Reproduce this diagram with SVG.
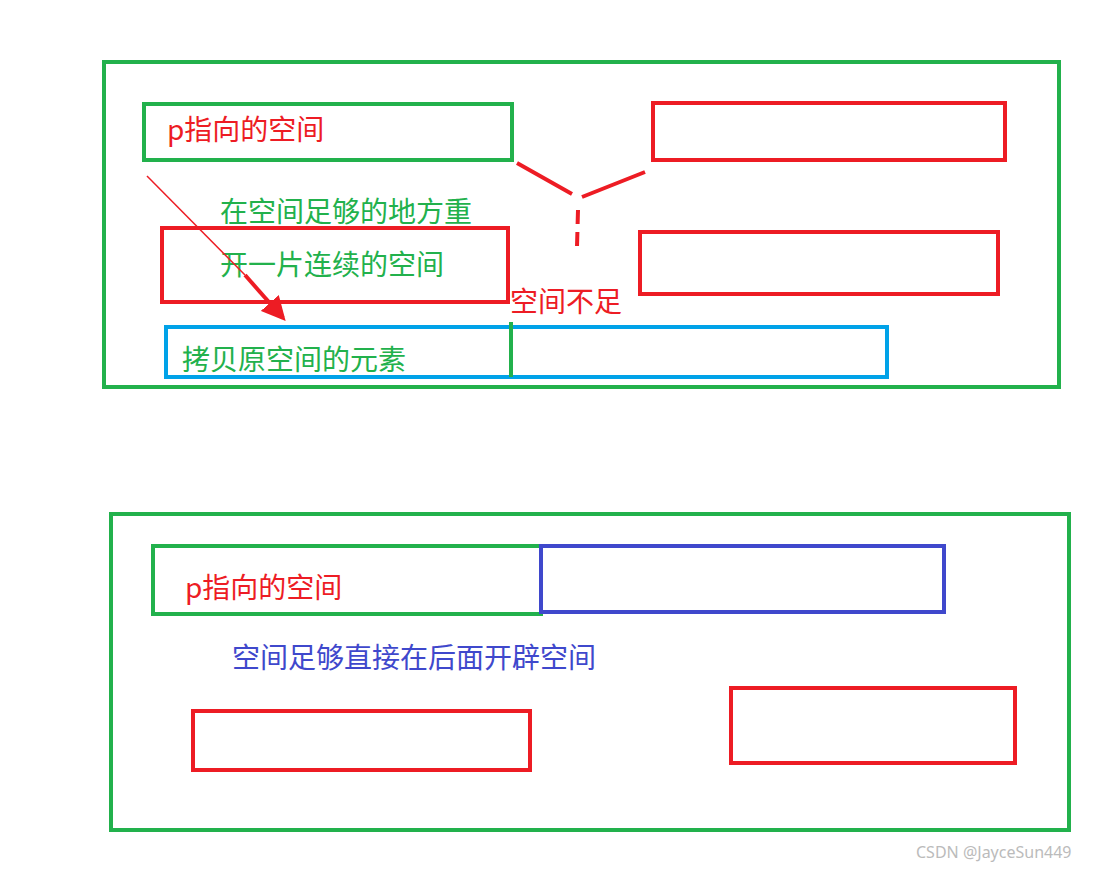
<svg xmlns="http://www.w3.org/2000/svg" width="1116" height="872" viewBox="0 0 1116 872">
<style>
rect{fill:none;stroke-width:4}
.g{stroke:#22b14c}.r{stroke:#ed1c24}.b{stroke:#00a2e8}.v{stroke:#3f48cc}
text{font-family:"Noto Sans CJK SC","Microsoft YaHei",sans-serif;font-size:28px}
</style>
<defs><marker id="ah" markerWidth="6" markerHeight="6" refX="5" refY="3" orient="auto"><path d="M0,0L6,3L0,6z" fill="#ed1c24"/></marker></defs>
<rect width="1116" height="872" fill="#fff" stroke="none"/>
<g id="top">
<rect class="g" x="104" y="62" width="955" height="325"/>
<g id="p1"><rect class="g" x="144" y="104" width="368" height="56"/><text x="167" y="140" fill="#ed1c24">p指向的空间</text></g>
<rect id="r1" class="r" x="653" y="103" width="352" height="57"/>
<rect id="r2" class="r" x="162" y="228" width="346" height="74"/>
<rect id="r3" class="r" x="640" y="232" width="358" height="62"/>
<g id="copy"><rect class="b" x="166" y="327" width="721" height="50"/><line x1="511" y1="322" x2="511" y2="377" stroke="#22b14c" stroke-width="4"/><text x="182" y="370" fill="#22b14c">拷贝原空间的元素</text></g>
<text x="220" y="222" fill="#22b14c">在空间足够的地方重</text>
<text x="220" y="275" fill="#22b14c">开一片连续的空间</text>
<text x="510" y="312" fill="#ed1c24">空间不足</text>
</g>
<g id="connectors" stroke="#ed1c24" fill="none">
<path d="M517,163L572,194M582,197L645,172" stroke-width="4"/>
<path d="M578,210L577,247" stroke-width="4" stroke-dasharray="14,8"/>
<line x1="147" y1="176" x2="245" y2="275" stroke-width="1.5"/>
<line x1="245" y1="275" x2="283" y2="318" stroke-width="4" marker-end="url(#ah)"/>
</g>
<g id="bottom">
<rect class="g" x="111" y="514" width="958" height="316"/>
<g id="p2"><rect class="g" x="153" y="546" width="388" height="68"/><text x="185" y="598" fill="#ed1c24">p指向的空间</text></g>
<rect id="n2" class="v" x="541" y="546" width="403" height="66"/>
<text x="232" y="668" fill="#3f48cc">空间足够直接在后面开辟空间</text>
<rect id="r4" class="r" x="193" y="711" width="337" height="59"/>
<rect id="r5" class="r" x="731" y="688" width="284" height="75"/>
</g>
<text x="916" y="858" fill="#bbb" style="font-size:16px;font-family:'Noto Sans',sans-serif">CSDN @JayceSun449</text>
</svg>
